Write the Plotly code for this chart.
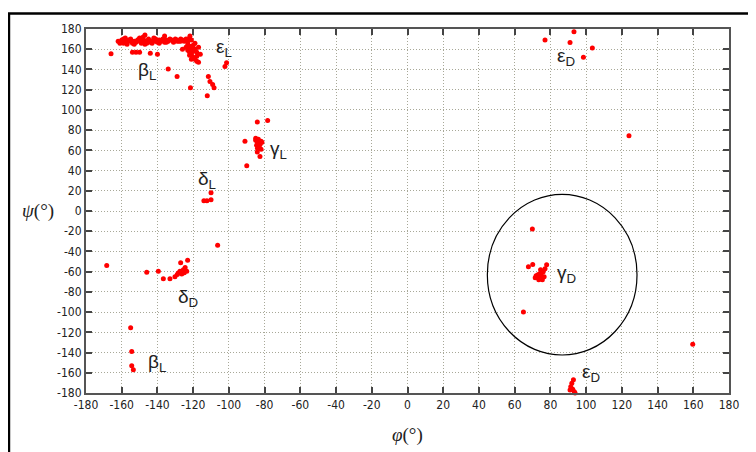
import plotly.graph_objects as go

# ---- data (phi, psi in degrees) ----
band_phi = [-162, -161, -160, -159, -158, -157, -156, -155, -154, -153, -152, -151, -150, -149, -148,
            -147, -146, -145, -144, -143, -142, -141, -140, -139, -138, -137, -136, -135, -134, -133,
            -132, -131, -130, -129, -128, -127, -126, -125,
            -161, -159, -157, -155, -153, -151, -149, -147, -145, -143, -141, -139, -137, -135, -133,
            -131, -129, -127, -148, -147, -136, -158, -150, -142]
band_psi = [168, 167, 169, 166, 168, 167, 169, 168, 166, 168, 167, 169, 168, 167, 170,
            168, 166, 169, 167, 168, 170, 168, 167, 169, 168, 170, 167, 169, 168, 170,
            169, 168, 170, 169, 168, 170, 169, 168,
            166, 170, 165, 170, 165, 169, 166, 165, 170, 166, 170, 166, 169, 167, 169,
            167, 168, 168, 172, 174, 173, 171, 171, 171]

betaL_phi = [-166, -154, -152, -150, -144, -140, -134, -129, -126, -121.5]
betaL_psi = [155.5, 157, 157, 157, 156, 155, 140.5, 133, 160, 122]

epsL_phi = [-124, -123, -122, -121, -123, -122, -121, -120, -124, -123, -122, -121, -120, -119,
            -118, -120, -119, -118, -117, -118, -121, -119, -117, -116, -122, -121.8]
epsL_psi = [170, 168, 171, 169, 165, 163, 161, 164, 162, 159, 157, 155, 158, 160,
            157, 152, 150, 148, 147, 153, 150, 166, 162, 155, 154, 173]

epsL2_phi = [-111.5, -110.6, -109.1, -108.3, -112.1, -102.2, -101.3]
epsL2_psi = [133, 128, 125, 122, 114, 143, 146.5]

gammaL_phi = [-84, -83, -82, -85, -84.5, -83.5, -82.5, -81.5, -84, -83, -85, -82, -91, -84.1, -78.3,
              -84.1, -82.6, -90]
gammaL_psi = [68, 67, 69, 70, 65, 71, 66, 68, 62, 63, 72, 61, 69, 88, 89.4, 58.4, 54, 44.8]

deltaL_phi = [-114, -112.3, -110, -110, -106.3]
deltaL_psi = [10.2, 10.2, 11.2, 18, -33.8]

deltaD_phi = [-168.4, -146, -139.5, -136.7, -133, -130.2, -128.9, -127.4, -125.5, -123.6, -128.3,
              -126.4, -127, -123.1, -125, -124.5]
deltaD_psi = [-54, -60.5, -59.5, -67, -67, -65, -62.8, -59.5, -58, -59.5, -61.2,
              -62.2, -51.3, -48.6, -61, -56]

betaL_low_phi = [-155, -154.4, -154.4, -153.5]
betaL_low_psi = [-115.5, -139, -153, -157]

gammaD_phi = [69.9, 67.7, 70.1, 75, 74, 73, 76, 77, 72, 73.5, 75.5, 74.5, 76.5, 77.9, 71.5, 73, 64.9]
gammaD_psi = [-17.9, -55.2, -52.9, -64, -62, -66, -60, -57, -64, -68, -68, -58, -65, -53.2, -66, -63, -100]

epsD_phi = [77, 93.2, 91, 103.5, 98.5, 92.9, 92, 91.4, 92.5, 93.4, 91, 93.8]
epsD_psi = [169, 177.2, 166.6, 161.3, 152.1, -167, -170.4, -173.7, -176.4, -178.7, -177, -180]

other_phi = [124, 159.7]
other_psi = [74.5, -131.7]

ticks = list(range(-180, 181, 20))

# circle around gamma_D region (data coords)
circle = dict(x0=44.7, x1=128.5, y0=-142.4, y1=16.4)

# labels: (text, phi, psi)
labels = [("ε<sub>L</sub>", -103, 161), ("β<sub>L</sub>", -146, 138), ("γ<sub>L</sub>", -72, 60),
          ("δ<sub>L</sub>", -112, 31), ("δ<sub>D</sub>", -123, -86), ("γ<sub>D</sub>", 89, -62),
          ("ε<sub>D</sub>", 89, 152), ("β<sub>L</sub>", -140, -150), ("ε<sub>D</sub>", 103, -160)]

phi = (band_phi + betaL_phi + epsL_phi + epsL2_phi + gammaL_phi + deltaL_phi + deltaD_phi
       + betaL_low_phi + gammaD_phi + epsD_phi + other_phi)
psi = (band_psi + betaL_psi + epsL_psi + epsL2_psi + gammaL_psi + deltaL_psi + deltaD_psi
       + betaL_low_psi + gammaD_psi + epsD_psi + other_psi)

fig = go.Figure()
fig.add_trace(go.Scatter(x=phi, y=psi, mode="markers",
                         marker=dict(color="#ff0000", size=5, line=dict(width=0)),
                         showlegend=False, cliponaxis=False))

tickfont = dict(family="Liberation Sans Narrow, Arial Narrow, DejaVu Sans Condensed, sans-serif",
                size=12, color="#222222")
axis_common = dict(range=[-180, 180], tickvals=ticks, ticktext=[str(t) for t in ticks],
                   showgrid=True, gridcolor="#a8a898", griddash="1px,2px", gridwidth=1.2,
                   showline=True, linecolor="#555555", linewidth=2, mirror="allticks",
                   ticks="inside", ticklen=6, tickwidth=1.5, tickcolor="#444444",
                   zeroline=False, tickfont=tickfont, fixedrange=True)

fig.update_xaxes(**axis_common)
fig.update_yaxes(**axis_common)

fig.add_shape(type="circle", xref="x", yref="y", line=dict(color="black", width=1.2),
              **circle)

for text, x, y in labels:
    fig.add_annotation(x=x, y=y, text=text, showarrow=False, xref="x", yref="y",
                       font=dict(family="Liberation Sans, Arial, sans-serif", size=19, color="#222222"))

# axis titles
fig.add_annotation(x=0.5, y=-0.15, xref="paper", yref="paper", text="<i>φ</i>(°)",
                   showarrow=False, font=dict(family="Liberation Serif, Times New Roman, serif",
                                              size=19, color="#222222"))
fig.add_annotation(x=-0.102, y=0.5, xref="paper", yref="paper", text="<i>ψ</i>(°)",
                   showarrow=False, font=dict(family="Liberation Serif, Times New Roman, serif",
                                              size=19, color="#222222"))

# outer frame
fig.add_shape(type="rect", xref="paper", yref="paper", x0=-0.1198, x1=1.0358, y0=-0.2, y1=1.0426,
              line=dict(color="black", width=2.5), layer="below")

# page body adds ~8px offset; compensate in margins and size
fig.update_layout(width=748, height=444, margin=dict(l=78, r=27, t=21, b=59),
                  plot_bgcolor="white", paper_bgcolor="white")

fig.write_html("out.html")
